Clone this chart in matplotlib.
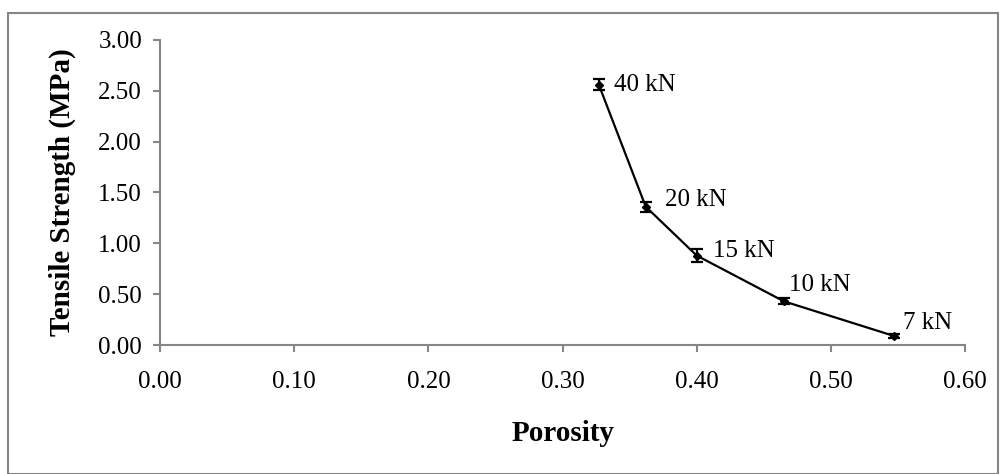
import numpy as np
import matplotlib.pyplot as plt
from matplotlib.patches import Rectangle

plt.rcParams['font.family'] = ['Liberation Serif', 'DejaVu Serif']

# data
porosity = [0.327, 0.362, 0.400, 0.465, 0.547]
strength = [2.56, 1.36, 0.88, 0.43, 0.09]
err = [0.05, 0.05, 0.06, 0.03, 0.02]
loads = ['40 kN', '20 kN', '15 kN', '10 kN', '7 kN']
label_off = [(15, 0), (19, 7), (16, 5), (5, 16), (9, 13)]

xticks = np.arange(0, 0.61, 0.1)
yticks = np.arange(0, 3.01, 0.5)

fig = plt.figure(figsize=(10.01, 4.74), dpi=100)
ax = fig.add_axes([0.160, 0.272, 0.804, 0.644])

ax.errorbar(porosity, strength, yerr=err, color='black', lw=1.6,
            marker='D', ms=4, capsize=4, elinewidth=1.6, capthick=1.6)

for x, y, t, (dx, dy) in zip(porosity, strength, loads, label_off):
    ax.annotate(t, (x, y), xytext=(dx, dy), textcoords='offset pixels',
                fontsize=18, va='center', ha='left')

ax.set_xlim(0, 0.6)
ax.set_ylim(0, 3.0)
ax.set_xticks(xticks)
ax.set_yticks(yticks)
ax.set_xticklabels(['%.2f' % v for v in xticks])
ax.set_yticklabels(['%.2f' % v for v in yticks])
ax.tick_params(labelsize=18, color='#868686', length=5, width=1.5, direction='out', pad=14)
ax.tick_params(axis='y', pad=8)
for s in ['top', 'right']:
    ax.spines[s].set_visible(False)
for s in ['left', 'bottom']:
    ax.spines[s].set_color('#868686')
    ax.spines[s].set_linewidth(1.5)

ax.set_xlabel('Porosity', fontsize=21, fontweight='bold')
ax.set_ylabel('Tensile Strength (MPa)', fontsize=21, fontweight='bold')
ax.xaxis.set_label_coords(0.5, (345 - 420) / 305)
ax.yaxis.set_label_coords((76 - 160) / 805, 0.5)

# outer chart border
fig.patches.append(Rectangle((8 / 1001, 0.0), 990 / 1001, (474 - 13) / 474,
                             transform=fig.transFigure, fill=False,
                             edgecolor='#868686', lw=1.5))

fig.savefig('out.png', dpi=100)
